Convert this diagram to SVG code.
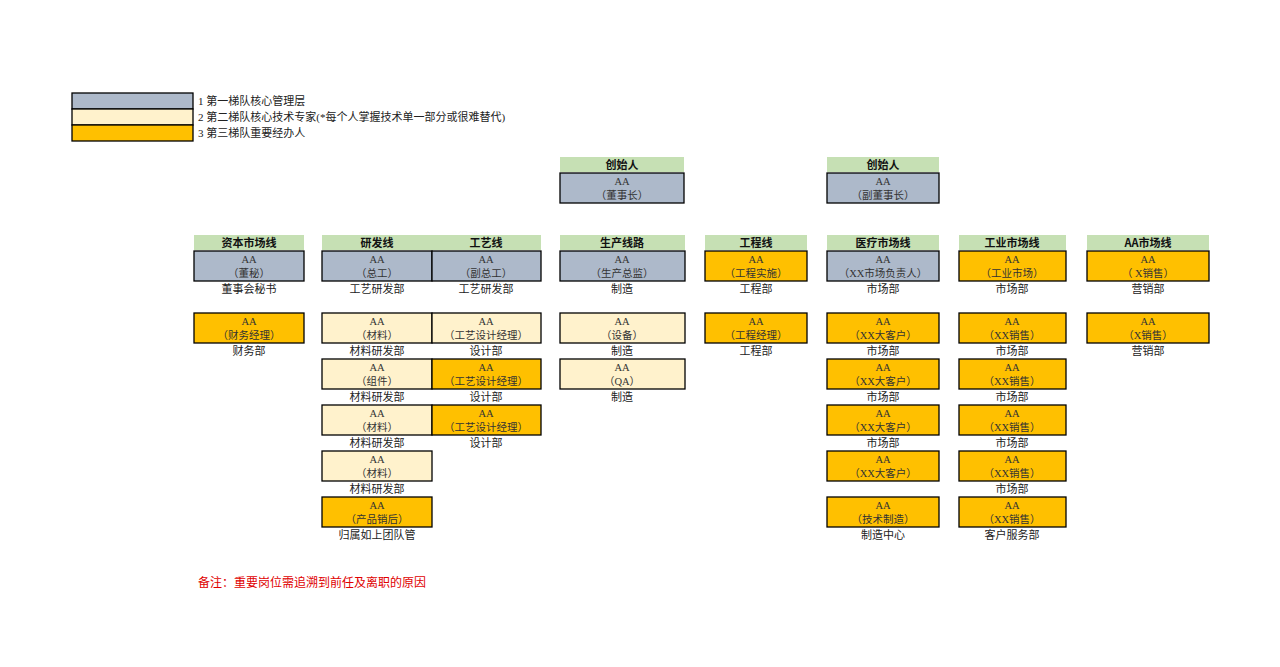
<svg xmlns="http://www.w3.org/2000/svg" width="1280" height="667" viewBox="0 0 1280 667">
<style>
text{font-family:"Liberation Serif","Noto Sans CJK SC",serif;font-size:11px;fill:#222}
.c{text-anchor:middle}
.b{stroke:#000;stroke-width:1.3}
.g{fill:#ADB9CA}.y{fill:#FFF2CC}.o{fill:#FFC000}
.h{fill:#C6E0B4}
.ht{font-family:"Noto Sans CJK SC",sans-serif;font-size:11px;font-weight:bold;text-anchor:middle;fill:#111}
.in{font-size:10.5px;text-anchor:middle;fill:#333}
</style>
<rect width="1280" height="667" fill="#fff"/>
<g id="legend">
<rect x="72" y="93" width="121" height="16" class="b g"/>
<rect x="72" y="109" width="121" height="16" class="b y"/>
<rect x="72" y="125" width="121" height="16" class="b o"/>
<text x="198" y="105">1 第一梯队核心管理层</text>
<text x="198" y="121">2 第二梯队核心技术专家(*每个人掌握技术单一部分或很难替代)</text>
<text x="198" y="137">3 第三梯队重要经办人</text>
</g>
<g id="founder1">
<rect x="560" y="157" width="124" height="15" class="h"/><text x="622" y="169" class="ht">创始人</text>
<rect x="560" y="173" width="124" height="30" class="b g"/><text x="622" y="185" class="in">AA</text><text x="622" y="199" class="in">（董事长）</text>
</g>
<g id="founder2">
<rect x="827" y="157" width="112" height="15" class="h"/><text x="883" y="169" class="ht">创始人</text>
<rect x="827" y="173" width="112" height="30" class="b g"/><text x="883" y="185" class="in">AA</text><text x="883" y="199" class="in">（副董事长）</text>
</g>
<g id="headers">
<rect x="194" y="235" width="110" height="15" class="h"/><text x="249" y="247" class="ht">资本市场线</text>
<rect x="322" y="235" width="219" height="15" class="h"/><text x="377" y="247" class="ht">研发线</text><text x="486" y="247" class="ht">工艺线</text>
<rect x="560" y="235" width="125" height="15" class="h"/><text x="622" y="247" class="ht">生产线路</text>
<rect x="705" y="235" width="102" height="15" class="h"/><text x="756" y="247" class="ht">工程线</text>
<rect x="827" y="235" width="112" height="15" class="h"/><text x="883" y="247" class="ht">医疗市场线</text>
<rect x="959" y="235" width="107" height="15" class="h"/><text x="1012" y="247" class="ht">工业市场线</text>
<rect x="1087" y="235" width="122" height="15" class="h"/><text x="1148" y="247" class="ht">AA市场线</text>
</g>
<g id="nodes">
<!-- macro: rect, AA, role, dept -->
<g id="n-zb1"><rect x="194" y="251" width="110" height="30" class="b g"/><text x="249" y="263" class="in">AA</text><text x="249" y="277" class="in">（董秘）</text><text x="249" y="293" class="c">董事会秘书</text></g>
<g id="n-zb2"><rect x="194" y="313" width="110" height="30" class="b o"/><text x="249" y="325" class="in">AA</text><text x="249" y="339" class="in">（财务经理）</text><text x="249" y="355" class="c">财务部</text></g>

<g id="n-yf1"><rect x="322" y="251" width="110" height="30" class="b g"/><text x="377" y="263" class="in">AA</text><text x="377" y="277" class="in">（总工）</text><text x="377" y="293" class="c">工艺研发部</text></g>
<g id="n-yf2"><rect x="322" y="313" width="110" height="30" class="b y"/><text x="377" y="325" class="in">AA</text><text x="377" y="339" class="in">（材料）</text><text x="377" y="355" class="c">材料研发部</text></g>
<g id="n-yf3"><rect x="322" y="359" width="110" height="30" class="b y"/><text x="377" y="371" class="in">AA</text><text x="377" y="385" class="in">（组件）</text><text x="377" y="401" class="c">材料研发部</text></g>
<g id="n-yf4"><rect x="322" y="405" width="110" height="30" class="b y"/><text x="377" y="417" class="in">AA</text><text x="377" y="431" class="in">（材料）</text><text x="377" y="447" class="c">材料研发部</text></g>
<g id="n-yf5"><rect x="322" y="451" width="110" height="30" class="b y"/><text x="377" y="463" class="in">AA</text><text x="377" y="477" class="in">（材料）</text><text x="377" y="493" class="c">材料研发部</text></g>
<g id="n-yf6"><rect x="322" y="497" width="110" height="30" class="b o"/><text x="377" y="509" class="in">AA</text><text x="377" y="523" class="in">（产品销后）</text><text x="377" y="539" class="c">归属如上团队管</text></g>

<g id="n-gy1"><rect x="432" y="251" width="109" height="30" class="b g"/><text x="486" y="263" class="in">AA</text><text x="486" y="277" class="in">（副总工）</text><text x="486" y="293" class="c">工艺研发部</text></g>
<g id="n-gy2"><rect x="432" y="313" width="109" height="30" class="b y"/><text x="486" y="325" class="in">AA</text><text x="486" y="339" class="in">（工艺设计经理）</text><text x="486" y="355" class="c">设计部</text></g>
<g id="n-gy3"><rect x="432" y="359" width="109" height="30" class="b o"/><text x="486" y="371" class="in">AA</text><text x="486" y="385" class="in">（工艺设计经理）</text><text x="486" y="401" class="c">设计部</text></g>
<g id="n-gy4"><rect x="432" y="405" width="109" height="30" class="b o"/><text x="486" y="417" class="in">AA</text><text x="486" y="431" class="in">（工艺设计经理）</text><text x="486" y="447" class="c">设计部</text></g>

<g id="n-sc1"><rect x="560" y="251" width="125" height="30" class="b g"/><text x="622" y="263" class="in">AA</text><text x="622" y="277" class="in">（生产总监）</text><text x="622" y="293" class="c">制造</text></g>
<g id="n-sc2"><rect x="560" y="313" width="125" height="30" class="b y"/><text x="622" y="325" class="in">AA</text><text x="622" y="339" class="in">（设备）</text><text x="622" y="355" class="c">制造</text></g>
<g id="n-sc3"><rect x="560" y="359" width="125" height="30" class="b y"/><text x="622" y="371" class="in">AA</text><text x="622" y="385" class="in">（QA）</text><text x="622" y="401" class="c">制造</text></g>

<g id="n-gc1"><rect x="705" y="251" width="102" height="30" class="b o"/><text x="756" y="263" class="in">AA</text><text x="756" y="277" class="in">（工程实施）</text><text x="756" y="293" class="c">工程部</text></g>
<g id="n-gc2"><rect x="705" y="313" width="102" height="30" class="b o"/><text x="756" y="325" class="in">AA</text><text x="756" y="339" class="in">（工程经理）</text><text x="756" y="355" class="c">工程部</text></g>

<g id="n-yl1"><rect x="827" y="251" width="112" height="30" class="b g"/><text x="883" y="263" class="in">AA</text><text x="883" y="277" class="in">（XX市场负责人）</text><text x="883" y="293" class="c">市场部</text></g>
<g id="n-yl2"><rect x="827" y="313" width="112" height="30" class="b o"/><text x="883" y="325" class="in">AA</text><text x="883" y="339" class="in">（XX大客户）</text><text x="883" y="355" class="c">市场部</text></g>
<g id="n-yl3"><rect x="827" y="359" width="112" height="30" class="b o"/><text x="883" y="371" class="in">AA</text><text x="883" y="385" class="in">（XX大客户）</text><text x="883" y="401" class="c">市场部</text></g>
<g id="n-yl4"><rect x="827" y="405" width="112" height="30" class="b o"/><text x="883" y="417" class="in">AA</text><text x="883" y="431" class="in">（XX大客户）</text><text x="883" y="447" class="c">市场部</text></g>
<g id="n-yl5"><rect x="827" y="451" width="112" height="30" class="b o"/><text x="883" y="463" class="in">AA</text><text x="883" y="477" class="in">（XX大客户）</text></g>
<g id="n-yl6"><rect x="827" y="497" width="112" height="30" class="b o"/><text x="883" y="509" class="in">AA</text><text x="883" y="523" class="in">（技术制造）</text><text x="883" y="539" class="c">制造中心</text></g>

<g id="n-gy1m"><rect x="959" y="251" width="107" height="30" class="b o"/><text x="1012" y="263" class="in">AA</text><text x="1012" y="277" class="in">（工业市场）</text><text x="1012" y="293" class="c">市场部</text></g>
<g id="n-gy2m"><rect x="959" y="313" width="107" height="30" class="b o"/><text x="1012" y="325" class="in">AA</text><text x="1012" y="339" class="in">（XX销售）</text><text x="1012" y="355" class="c">市场部</text></g>
<g id="n-gy3m"><rect x="959" y="359" width="107" height="30" class="b o"/><text x="1012" y="371" class="in">AA</text><text x="1012" y="385" class="in">（XX销售）</text><text x="1012" y="401" class="c">市场部</text></g>
<g id="n-gy4m"><rect x="959" y="405" width="107" height="30" class="b o"/><text x="1012" y="417" class="in">AA</text><text x="1012" y="431" class="in">（XX销售）</text><text x="1012" y="447" class="c">市场部</text></g>
<g id="n-gy5m"><rect x="959" y="451" width="107" height="30" class="b o"/><text x="1012" y="463" class="in">AA</text><text x="1012" y="477" class="in">（XX销售）</text><text x="1012" y="493" class="c">市场部</text></g>
<g id="n-gy6m"><rect x="959" y="497" width="107" height="30" class="b o"/><text x="1012" y="509" class="in">AA</text><text x="1012" y="523" class="in">（XX销售）</text><text x="1012" y="539" class="c">客户服务部</text></g>

<g id="n-aa1"><rect x="1087" y="251" width="122" height="30" class="b o"/><text x="1148" y="263" class="in">AA</text><text x="1148" y="277" class="in">（ X销售）</text><text x="1148" y="293" class="c">营销部</text></g>
<g id="n-aa2"><rect x="1087" y="313" width="122" height="30" class="b o"/><text x="1148" y="325" class="in">AA</text><text x="1148" y="339" class="in">（X销售）</text><text x="1148" y="355" class="c">营销部</text></g>
</g>
<g id="connectors"></g>
<text x="198" y="587" style="fill:#E00000;font-size:12px">备注：重要岗位需追溯到前任及离职的原因</text>
</svg>
